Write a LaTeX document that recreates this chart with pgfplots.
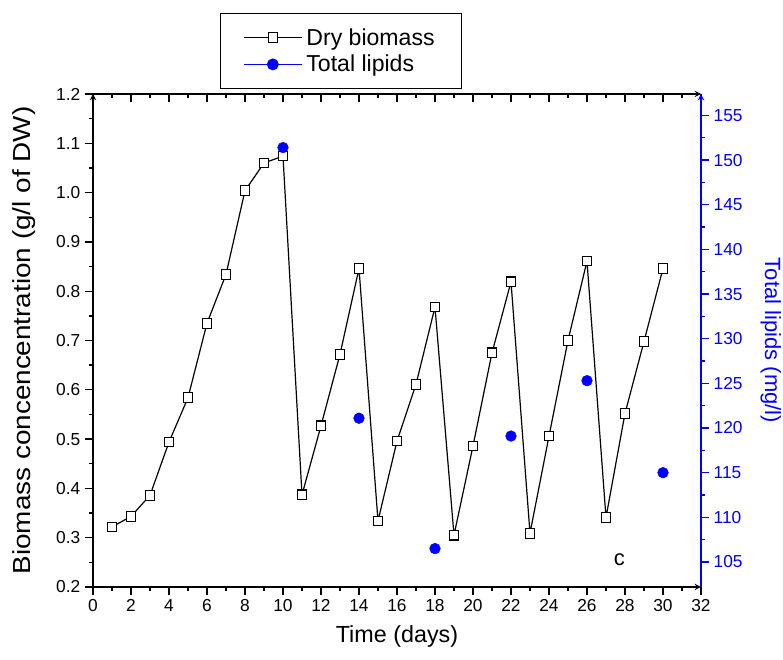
\documentclass[border=0pt]{standalone}
\usepackage{pgfplots}
\pgfplotsset{compat=1.18}
\usepackage{fontspec}
\setmainfont{Liberation Sans}
\begin{document}
\begin{tikzpicture}
\pgfplotsset{
  common/.style={
    scale only axis, width=456pt, height=369.75pt,
    xmin=0, xmax=32, xtick={0,2,...,32}, minor x tick num=1,
    major tick length=6pt, minor tick length=3pt,
    /pgf/number format/assume math mode=true,
    tick label style={font=\fontsize{13}{15}\selectfont},
    label style={font=\fontsize{16.5}{19}\selectfont},
    axis line style={-, line width=1.1pt},
  },
  legend image code/.code={\draw[mark repeat=2,mark phase=2,#1] plot coordinates {(0pt,0pt) (21.75pt,0pt) (43.5pt,0pt)};},
}
\begin{axis}[common, name=main,
  axis x line=bottom, axis y line=left, tick align=outside,
  xtick pos=bottom, ytick pos=left,
  tick style={line width=1pt, color=black},
  ymin=0.2, ymax=1.2, ytick={0.2,0.3,0.4,0.5,0.6,0.7,0.8,0.9,1.0,1.1,1.2}, minor y tick num=1,
  yticklabel style={/pgf/number format/.cd, fixed, fixed zerofill, precision=1},
  xlabel={Time (days)}, ylabel={\scalebox{1.13}[1]{Biomass concencentration (g/l of DW)}},
  xlabel style={font=\fontsize{17.5}{20}\selectfont, at={(axis description cs:0.5,-0.0994)}, anchor=center},
  ylabel style={font=\fontsize{18.5}{21}\selectfont, at={(axis description cs:-0.114,0.5)}, anchor=center},
  legend style={at={(0.209,1.164)}, anchor=north west, draw=black, line width=0.75pt,
    font=\fontsize{17.3}{20}\selectfont, inner xsep=17pt, inner ysep=8pt, row sep=0pt,
    nodes={inner xsep=3pt, inner ysep=3pt}},
  legend cell align=left,
]
\addplot[black, line width=0.9pt, mark=square*, mark size=3.6pt, mark options={fill=white, line width=0.8pt, solid}] table {
x y
1 0.322
2 0.343
3 0.386
4 0.494
5 0.584
6 0.735
7 0.834
8 1.004
9 1.060
10 1.074
11 0.387
12 0.527
13 0.672
14 0.846
15 0.334
16 0.496
17 0.611
18 0.768
19 0.305
20 0.486
21 0.675
22 0.819
23 0.309
24 0.506
25 0.700
26 0.861
27 0.341
28 0.552
29 0.698
30 0.846
};
\addlegendentry{Dry biomass}
\addlegendimage{blue, line width=0.9pt, sharp plot, mark=*, mark size=4pt, mark options={solid, fill=blue}}
\addlegendentry{Total lipids}
\node[font=\fontsize{16.5}{19}\selectfont] at (axis cs:27.7,0.256) {c};
\end{axis}
\begin{axis}[common,
  axis x line=top, axis y line=none, tick align=inside,
  xtick pos=top, xticklabels={}, ytick=\empty,
  tick style={line width=1pt, color=black},
  ymin=0.2, ymax=1.2,
]
\end{axis}
\begin{axis}[common,
  axis y line=right, axis x line=none, tick align=outside,
  ytick pos=right, yticklabel pos=right, xtick=\empty,
  ymin=102.2, ymax=157.4, ytick={105,110,115,120,125,130,135,140,145,150,155}, minor y tick num=1,
  axis line style={blue},
  tick style={line width=1pt, color=blue},
  yticklabel style={blue},
  ylabel={Total lipids (mg/l)},
  ylabel style={blue, font=\fontsize{16.5}{19}\selectfont, at={(axis description cs:1.115,0.5)}, anchor=center, rotate=180},
]
\addplot[only marks, mark=*, blue, mark size=4pt] table {
x y
10 151.4
14 121.1
18 106.5
22 119.1
26 125.3
30 115.0
};
\end{axis}
\pgfresetboundingbox
\path[use as bounding box] ([xshift=-69.75pt, yshift=-54.75pt]main.south west) rectangle ++(587.25pt,495pt);
\end{tikzpicture}
\end{document}
